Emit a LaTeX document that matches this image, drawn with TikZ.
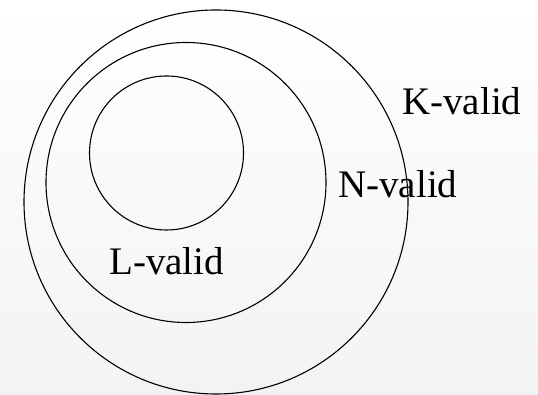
\documentclass[tikz,border=0pt]{standalone}
\usepackage{fontspec}
\setmainfont{Liberation Serif}
\begin{document}
\begin{tikzpicture}[x=1pt,y=1pt,
  ring/.style={draw=black, line width=1.1pt, circle, inner sep=0pt, outer sep=0pt},
  lbl/.style={anchor=base west, inner sep=0pt, font=\fontsize{39}{44}\selectfont}]
  \shade[top color=white, bottom color={rgb,255:red,242;green,243;blue,245}] (0,0) rectangle (538,395);
  \useasboundingbox (0,0) rectangle (538,395);
  \node[ring, minimum size=384pt] (Kc) at (216,193) {};
  \node[ring, minimum size=280pt] (Nc) at (186,212.5) {};
  \node[ring, minimum size=154pt] (Lc) at (166.5,242) {};
  \node[lbl] (K) at (402,280) {K-valid};
  \node[lbl] (N) at (338,197.5) {N-valid};
  \node[lbl] (L) at (109,120) {L-valid};
\end{tikzpicture}
\end{document}
